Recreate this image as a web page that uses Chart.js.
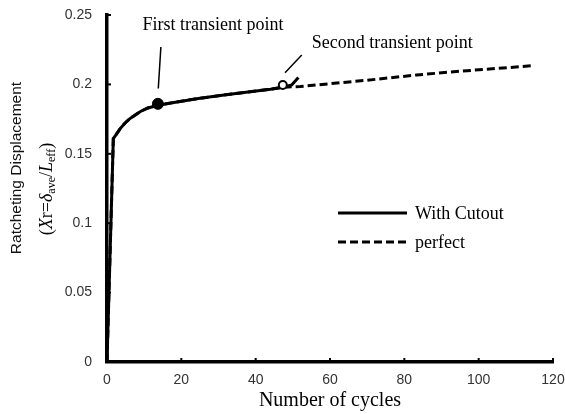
<!DOCTYPE html>
<html>
<head>
<meta charset="utf-8">
<script src="https://cdn.jsdelivr.net/npm/chart.js@4"></script>
<style>
  html, body { margin: 0; padding: 0; background: #fff; }
  #wrap { width: 565px; height: 414px; }
</style>
</head>
<body>
<div id="wrap"><canvas id="chart" width="565" height="414"></canvas></div>
<script>
// shared part of the two curves
const commonCycles = [0, 1.7, 2.5, 3.5, 4.8, 6, 7.1, 9, 11, 13.8, 18, 25, 32, 38.5, 44, 47.4];
const commonDisp = [0, 0.161, 0.164, 0.168, 0.172, 0.175, 0.177, 0.1805, 0.183, 0.185, 0.187, 0.190, 0.1925, 0.1947, 0.1965, 0.198];

const cutoutTailCycles = [49.7, 51.5];
const cutoutTailDisp = [0.1996, 0.205];

const perfectTailCycles = [52, 60, 70, 83.3, 95, 105, 114.7];
const perfectTailDisp = [0.1985, 0.2005, 0.203, 0.2068, 0.2095, 0.2115, 0.2135];

const firstPoint = [13.7, 0.186];
const secondPoint = [47.3, 0.1996];

const yTicks = [0, 0.05, 0.1, 0.15, 0.2, 0.25];
const yTickLabels = ['0', '0.05', '0.1', '0.15', '0.2', '0.25'];
const xTicks = [0, 20, 40, 60, 80, 100, 120];

const legendLabels = ['With Cutout', 'perfect'];

function toPoints(xs, ys) {
    return xs.map((x, i) => ({ x: x, y: ys[i] }));
}

const serif = '"Liberation Serif", "Times New Roman", serif';
const sans = '"Liberation Sans", Arial, sans-serif';

const extras = {
    id: 'extras',
    afterDatasetsDraw(chart) {
        const ctx = chart.ctx;
        const xs = chart.scales.x, ys = chart.scales.y;
        const area = chart.chartArea;
        const px = v => xs.getPixelForValue(v);
        const py = v => ys.getPixelForValue(v);

        ctx.save();
        ctx.strokeStyle = '#000';
        ctx.lineWidth = 2;
        // inward ticks
        xTicks.forEach(v => {
            ctx.beginPath();
            ctx.moveTo(px(v), area.bottom);
            ctx.lineTo(px(v), area.bottom - 4);
            ctx.stroke();
        });
        yTicks.forEach(v => {
            ctx.beginPath();
            ctx.moveTo(area.left, py(v));
            ctx.lineTo(area.left + 4, py(v));
            ctx.stroke();
        });

        // annotation pointers
        ctx.lineWidth = 1.5;
        ctx.beginPath();
        ctx.moveTo(px(14.5), py(0.227));
        ctx.lineTo(px(13.8), py(0.197));
        ctx.stroke();
        ctx.beginPath();
        ctx.moveTo(px(47.9), py(0.2084));
        ctx.lineTo(px(52.4), py(0.2212));
        ctx.stroke();

        ctx.fillStyle = '#000';
        ctx.font = '18px ' + serif;
        ctx.textBaseline = 'middle';
        ctx.textAlign = 'center';
        ctx.fillText('First transient point', px(28.5), py(0.2428));
        ctx.textAlign = 'left';
        ctx.fillText('Second transient point', px(55.1), py(0.2298));

        // legend
        const lx0 = 338, lx1 = 407;
        chart.data.datasets.slice(0, 2).forEach((ds, i) => {
            const ly = 213 + i * 29;
            ctx.strokeStyle = ds.borderColor;
            ctx.lineWidth = ds.borderWidth;
            ctx.setLineDash(ds.borderDash || []);
            ctx.beginPath();
            ctx.moveTo(lx0, ly);
            ctx.lineTo(lx1, ly);
            ctx.stroke();
            ctx.setLineDash([]);
            ctx.fillText(legendLabels[i], 415, ly + 1);
        });

        // x axis title
        ctx.textAlign = 'center';
        ctx.font = '20px ' + serif;
        ctx.fillText('Number of cycles', (area.left + area.right) / 2, 401);

        // y axis title, two lines
        ctx.translate(17, 168);
        ctx.rotate(-Math.PI / 2);
        ctx.font = '15.5px ' + sans;
        ctx.fillStyle = '#111';
        ctx.fillText('Ratcheting Displacement', 0, 0);
        ctx.restore();

        ctx.save();
        ctx.fillStyle = '#000';
        ctx.translate(47, 189);
        ctx.rotate(-Math.PI / 2);
        ctx.textBaseline = 'middle';
        const parts = [
            ['(', '18px ' + serif, 0],
            ['X', 'italic 18px ' + serif, 0],
            ['r', '18px ' + serif, 0],
            ['=', '18px ' + serif, 0],
            ['δ', 'italic 18px ' + serif, 0],
            ['ave', '12px ' + serif, 5],
            ['/', '18px ' + serif, 0],
            ['L', 'italic 18px ' + serif, 0],
            ['eff', '12px ' + serif, 5],
            [')', '18px ' + serif, 0]
        ];
        let total = 0;
        parts.forEach(p => { ctx.font = p[1]; total += ctx.measureText(p[0]).width; });
        let cx = -total / 2;
        ctx.textAlign = 'left';
        parts.forEach(p => {
            ctx.font = p[1];
            ctx.fillText(p[0], cx, p[2]);
            cx += ctx.measureText(p[0]).width;
        });
        ctx.restore();
    }
};

new Chart(document.getElementById('chart'), {
    type: 'line',
    data: {
        datasets: [
            {
                label: legendLabels[0],
                data: toPoints(commonCycles.concat(cutoutTailCycles), commonDisp.concat(cutoutTailDisp)),
                borderColor: '#000',
                borderWidth: 3,
                pointRadius: 0,
                tension: 0,
                order: 1
            },
            {
                label: legendLabels[1],
                data: toPoints(commonCycles.concat(perfectTailCycles), commonDisp.concat(perfectTailDisp)),
                borderColor: '#000',
                borderWidth: 3,
                borderDash: [8, 4],
                pointRadius: 0,
                tension: 0,
                order: 2
            },
            {
                label: 'first',
                data: [{ x: firstPoint[0], y: firstPoint[1] }],
                showLine: false,
                pointRadius: 5.5,
                pointBackgroundColor: '#000',
                pointBorderColor: '#000',
                order: 0
            },
            {
                label: 'second',
                data: [{ x: secondPoint[0], y: secondPoint[1] }],
                showLine: false,
                pointRadius: 4,
                pointBorderWidth: 2,
                pointBackgroundColor: '#fff',
                pointBorderColor: '#000',
                order: 0
            }
        ]
    },
    options: {
        responsive: false,
        animation: false,
        layout: { padding: { left: 0, right: 12, top: 15, bottom: 0 } },
        plugins: {
            legend: { display: false },
            tooltip: { enabled: false }
        },
        scales: {
            x: {
                type: 'linear',
                min: 0,
                max: 120,
                afterFit(scale) {
                    scale.height = 52;
                    scale.paddingLeft = 0;
                    scale.paddingRight = 0;
                },
                afterBuildTicks(scale) { scale.ticks = xTicks.map(v => ({ value: v })); },
                grid: { drawOnChartArea: false, drawTicks: false },
                border: { color: '#000', width: 3.5 },
                ticks: {
                    padding: 10,
                    color: '#333',
                    font: { family: sans, size: 14 },
                    maxRotation: 0
                }
            },
            y: {
                min: 0,
                max: 0.25,
                afterFit(scale) {
                    scale.width = 107;
                    scale.paddingTop = 0;
                    scale.paddingBottom = 0;
                },
                afterBuildTicks(scale) { scale.ticks = yTicks.map(v => ({ value: v })); },
                grid: { drawOnChartArea: false, drawTicks: false },
                border: { color: '#000', width: 3.5 },
                ticks: {
                    padding: 15,
                    color: '#333',
                    font: { family: sans, size: 14 },
                    callback: (v) => yTickLabels[yTicks.indexOf(v)] ?? ''
                }
            }
        }
    },
    plugins: [extras]
});
</script>
</body>
</html>
